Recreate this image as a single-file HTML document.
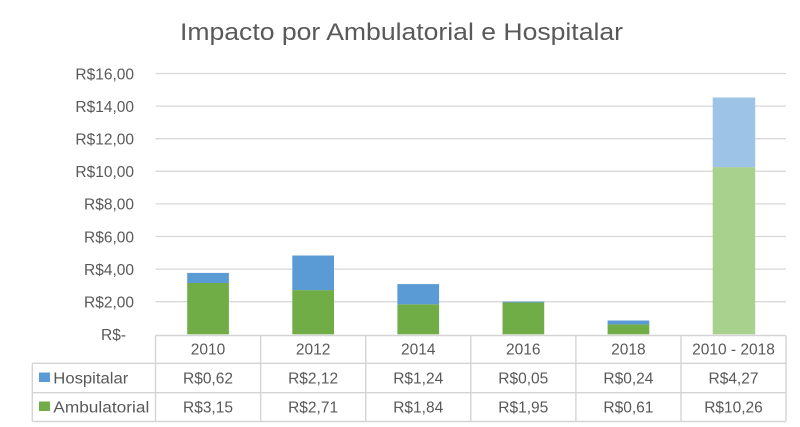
<!DOCTYPE html>
<html><head><meta charset="utf-8"><style>
html,body{margin:0;padding:0;background:#fff;}
svg{display:block;}
text{font-family:"Liberation Sans",sans-serif;fill:#595959;}
</style></head><body>
<svg width="800" height="427" viewBox="0 0 800 427" xmlns="http://www.w3.org/2000/svg">
<rect width="800" height="427" fill="#fff"/>
<text x="401.5" y="40" font-size="24" text-anchor="middle" textLength="443" lengthAdjust="spacingAndGlyphs">Impacto por Ambulatorial e Hospitalar</text>
<!-- gridlines -->
<g stroke="#d9d9d9" stroke-width="1.3">
<line x1="155.5" x2="786" y1="73.5" y2="73.5"/>
<line x1="155.5" x2="786" y1="106.1" y2="106.1"/>
<line x1="155.5" x2="786" y1="138.7" y2="138.7"/>
<line x1="155.5" x2="786" y1="171.3" y2="171.3"/>
<line x1="155.5" x2="786" y1="203.9" y2="203.9"/>
<line x1="155.5" x2="786" y1="236.5" y2="236.5"/>
<line x1="155.5" x2="786" y1="269.1" y2="269.1"/>
<line x1="155.5" x2="786" y1="301.7" y2="301.7"/>
</g>
<!-- y labels -->
<g font-size="15.5" text-anchor="end">
<text x="134" y="79.3">R$16,00</text>
<text x="134" y="111.9">R$14,00</text>
<text x="134" y="144.5">R$12,00</text>
<text x="134" y="177.1">R$10,00</text>
<text x="134" y="209.7">R$8,00</text>
<text x="134" y="242.3">R$6,00</text>
<text x="134" y="274.9">R$4,00</text>
<text x="134" y="307.5">R$2,00</text>
<text x="126" y="340">R$-</text>
</g>
<!-- bars: zero 334.3, 16.3 px/unit -->
<g>
<rect x="187.2" y="283.0" width="41.7" height="51.3" fill="#70AD47"/>
<rect x="187.2" y="272.9" width="41.7" height="10.1" fill="#5B9BD5"/>
<rect x="292.3" y="290.1" width="41.7" height="44.2" fill="#70AD47"/>
<rect x="292.3" y="255.5" width="41.7" height="34.6" fill="#5B9BD5"/>
<rect x="397.4" y="304.3" width="41.7" height="30.0" fill="#70AD47"/>
<rect x="397.4" y="284.1" width="41.7" height="20.2" fill="#5B9BD5"/>
<rect x="502.5" y="302.5" width="41.7" height="31.8" fill="#70AD47"/>
<rect x="502.5" y="301.7" width="41.7" height="0.8" fill="#5B9BD5"/>
<rect x="607.6" y="324.4" width="41.7" height="9.9" fill="#70AD47"/>
<rect x="607.6" y="320.5" width="41.7" height="3.9" fill="#5B9BD5"/>
<rect x="712.7" y="167.1" width="42.5" height="167.2" fill="#A9D18E"/>
<rect x="712.7" y="97.5" width="42.5" height="69.6" fill="#9DC3E6"/>
</g>
<!-- table lines -->
<g stroke="#d4d4d4" stroke-width="1.4" fill="none">
<line x1="155.5" x2="786" y1="335.5" y2="335.5"/>
<line x1="32.3" x2="786" y1="363.3" y2="363.3"/>
<line x1="32.3" x2="786" y1="392.7" y2="392.7"/>
<line x1="32.3" x2="786" y1="421.5" y2="421.5"/>
<line x1="32.3" x2="32.3" y1="363.3" y2="421.5"/>
<line x1="155.5" x2="155.5" y1="335.5" y2="421.5"/>
<line x1="260.6" x2="260.6" y1="335.5" y2="421.5"/>
<line x1="365.7" x2="365.7" y1="335.5" y2="421.5"/>
<line x1="470.8" x2="470.8" y1="335.5" y2="421.5"/>
<line x1="575.9" x2="575.9" y1="335.5" y2="421.5"/>
<line x1="681" x2="681" y1="335.5" y2="421.5"/>
<line x1="786" x2="786" y1="335.5" y2="421.5"/>
</g>
<!-- legend -->
<rect x="39" y="372.5" width="11" height="9.5" fill="#5B9BD5"/>
<rect x="39" y="401.5" width="11" height="9.5" fill="#70AD47"/>
<g font-size="15.5">
<text x="53.3" y="383.3" textLength="75" lengthAdjust="spacingAndGlyphs">Hospitalar</text>
<text x="53.3" y="412.3" textLength="96" lengthAdjust="spacingAndGlyphs">Ambulatorial</text>
</g>
<!-- table text -->
<g font-size="15.5" text-anchor="middle">
<text x="208" y="354.3">2010</text>
<text x="313.1" y="354.3">2012</text>
<text x="418.2" y="354.3">2014</text>
<text x="523.3" y="354.3">2016</text>
<text x="628.4" y="354.3">2018</text>
<text x="733.5" y="354.3">2010 - 2018</text>
<text x="208" y="383.3">R$0,62</text>
<text x="313.1" y="383.3">R$2,12</text>
<text x="418.2" y="383.3">R$1,24</text>
<text x="523.3" y="383.3">R$0,05</text>
<text x="628.4" y="383.3">R$0,24</text>
<text x="733.5" y="383.3">R$4,27</text>
<text x="208" y="412.3">R$3,15</text>
<text x="313.1" y="412.3">R$2,71</text>
<text x="418.2" y="412.3">R$1,84</text>
<text x="523.3" y="412.3">R$1,95</text>
<text x="628.4" y="412.3">R$0,61</text>
<text x="733.5" y="412.3">R$10,26</text>
</g>
</svg>
</body></html>
